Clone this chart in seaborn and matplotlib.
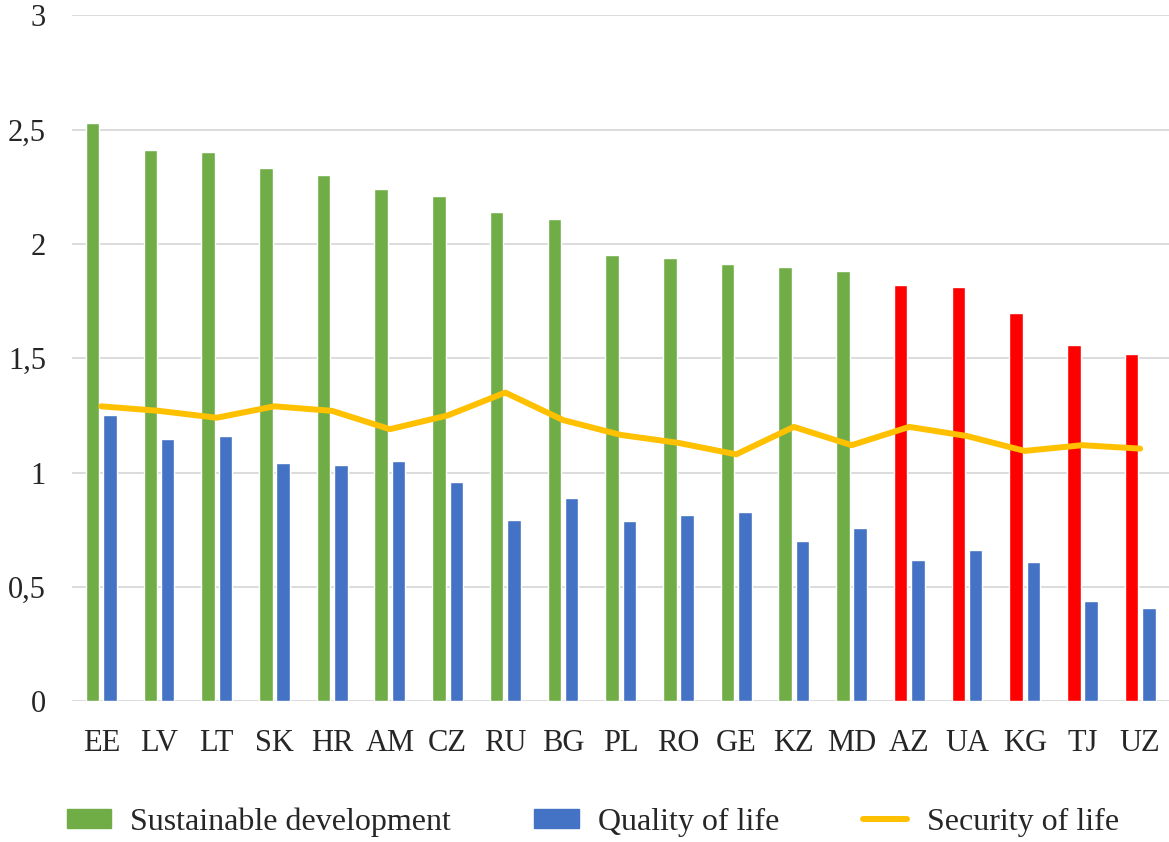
import pandas as pd
import matplotlib.pyplot as plt
import seaborn as sns
from matplotlib.patches import Patch
from matplotlib.lines import Line2D

# Dados
paises = ["EE", "LV", "LT", "SK", "HR", "AM", "CZ", "RU", "BG", "PL",
          "RO", "GE", "KZ", "MD", "AZ", "UA", "KG", "TJ", "UZ"]
sustentavel = [2.53, 2.41, 2.40, 2.33, 2.30, 2.24, 2.21, 2.14, 2.11, 1.95,
               1.94, 1.91, 1.90, 1.88, 1.82, 1.81, 1.70, 1.56, 1.52]
qualidade = [1.25, 1.145, 1.16, 1.04, 1.035, 1.05, 0.96, 0.795, 0.89, 0.79,
             0.815, 0.83, 0.70, 0.76, 0.62, 0.66, 0.61, 0.44, 0.41]
seguranca = [1.29, 1.27, 1.24, 1.29, 1.27, 1.19, 1.25, 1.35, 1.23, 1.165,
             1.13, 1.08, 1.20, 1.12, 1.20, 1.16, 1.095, 1.12, 1.105]
paises_vermelhos = ["AZ", "UA", "KG", "TJ", "UZ"]
series = ["Sustainable development", "Quality of life", "Security of life"]
yticks = [0, 0.5, 1, 1.5, 2, 2.5, 3]
ytick_labels = ["0", "0,5", "1", "1,5", "2", "2,5", "3"]

verde, azul, vermelho, amarelo = "#70AD47", "#4472C4", "#FF0000", "#FFC000"

df_barras = pd.DataFrame({
    "Pais": paises * 2,
    "Valor": sustentavel + qualidade,
    "Serie": [series[0]] * len(paises) + [series[1]] * len(paises),
})
df_linha = pd.DataFrame({"Pais": paises, "Valor": seguranca})

sns.set_style("white")
plt.rcParams["font.family"] = ["Liberation Serif", "DejaVu Serif"]

fig = plt.figure(figsize=(11.69, 8.42), dpi=100)
ax = fig.add_axes([0.062, 0.167, 0.938, 0.815])

sns.barplot(data=df_barras, x="Pais", y="Valor", hue="Serie",
            palette=[verde, azul], width=0.6, gap=0.22,
            saturation=1, legend=False, ax=ax, zorder=2)

# barras vermelhas para os últimos países
for patch, pais in zip(ax.containers[0].patches, paises):
    if pais in paises_vermelhos:
        patch.set_facecolor(vermelho)

sns.lineplot(data=df_linha, x="Pais", y="Valor", color=amarelo,
             linewidth=4.3, sort=False, ax=ax, zorder=3)

ax.set_ylim(0, 3)
ax.set_xlim(-0.5, len(paises) - 0.5)
ax.set_yticks(yticks)
ax.set_yticklabels(ytick_labels)
ax.grid(axis="y", color="#d9d9d9", linewidth=1.3, zorder=0)
ax.set_axisbelow(True)
for s in ax.spines.values():
    s.set_visible(False)
ax.set_xlabel("")
ax.set_ylabel("")
ax.tick_params(axis="x", labelsize=22, pad=20, length=0)
ax.tick_params(axis="y", labelsize=22, pad=19, length=0)

handles = [Patch(color=verde), Patch(color=azul),
           Line2D([0], [0], color=amarelo, linewidth=4.3)]
fig.legend(handles, series, loc="center", bbox_to_anchor=(0.507, 0.024),
           ncol=3, frameon=False, fontsize=23, handlelength=1.4,
           handleheight=0.55, handletextpad=0.6, columnspacing=2.6)

plt.savefig("out.png", dpi=100)
